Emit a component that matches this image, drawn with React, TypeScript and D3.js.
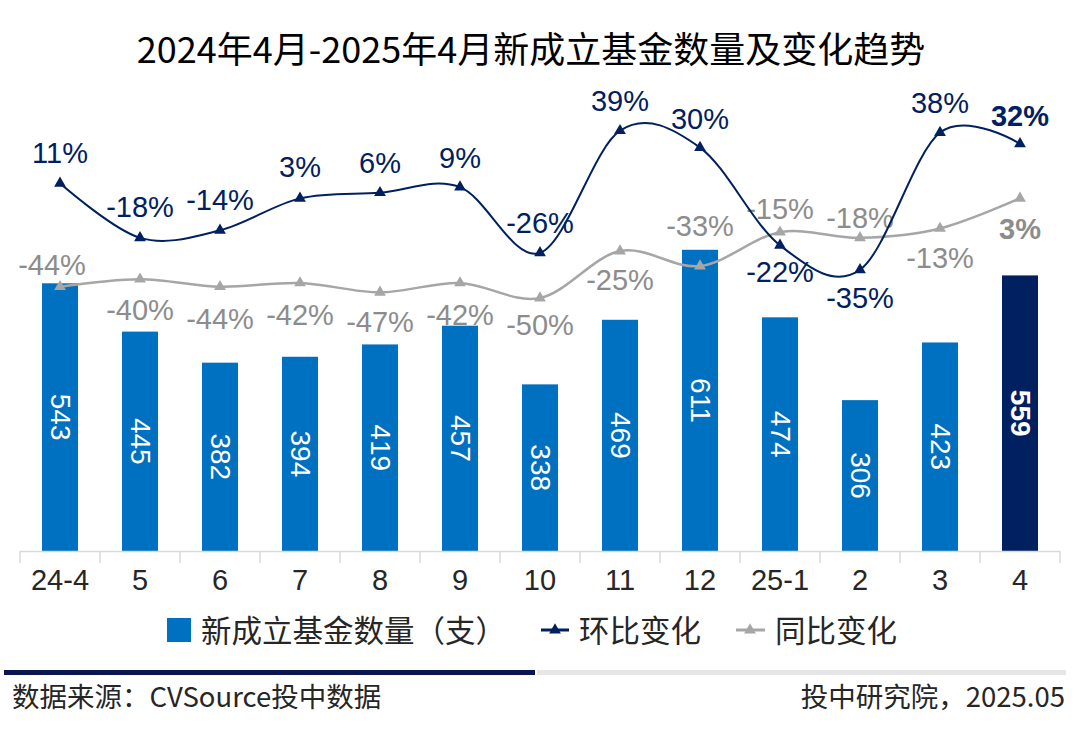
import * as d3 from "d3";

const CATEGORIES = ["24-4", "5", "6", "7", "8", "9", "10", "11", "12", "25-1", "2", "3", "4"];
const FUND_COUNTS = [543, 445, 382, 394, 419, 457, 338, 469, 611, 474, 306, 423, 559];
const MOM_PCT = [11, -18, -14, 3, 6, 9, -26, 39, 30, -22, -35, 38, 32];
const YOY_PCT = [-44, -40, -44, -42, -47, -42, -50, -25, -33, -15, -18, -13, 3];

const TITLE = "2024年4月-2025年4月新成立基金数量及变化趋势";
const LEGEND = ["新成立基金数量（支）", "环比变化", "同比变化"];
const SOURCE = "数据来源：CVSource投中数据";
const CREDIT = "投中研究院，2025.05";

// label offsets from the marker, in px (negative = above)
const MOM_LABEL_DY = [-30, -31, -30, -31, -30, -29, -30, -30, -29, 27, 28, -30, -28];
const YOY_LABEL_DY = [-22, 31, 32, 32, 30, 32, 27, 29, -40, -23, -20, 30, 31];

const W = 1080;
const H = 744;
const BASE = 551;

const BLUE = "#0070C0";
const NAVY = "#002060";
const GREY = "#A6A6A6";
const GREY_TEXT = "#8C8C8C";
const INK = "#262626";
const NUM_FONT = "'Liberation Sans', Arial, sans-serif";
const CJK_FONT = "'Noto Sans CJK SC', 'Noto Sans', sans-serif";

export default function App() {
  const x = d3.scaleBand<string>().domain(CATEGORIES).range([20, 1060]).padding(0);
  const cx = (i: number) => (x(CATEGORIES[i]) ?? 0) + x.bandwidth() / 2;
  const barW = x.bandwidth() * 0.45;

  const yBar = d3.scaleLinear().domain([0, 700]).range([BASE, BASE - 700 * 0.493]);
  const yPct = d3.scaleLinear().domain([-60, 60]).range([204 + 60 * 1.88, 204 - 60 * 1.88]);

  const line = d3
    .line<number>()
    .x((_, i) => cx(i))
    .y((d) => yPct(d))
    .curve(d3.curveCardinal.tension(0));

  const tri = d3.symbol(d3.symbolTriangle, 60)() ?? "";
  const last = CATEGORIES.length - 1;

  return (
    <svg
      width={W}
      height={H}
      viewBox={`0 0 ${W} ${H}`}
      style={{ position: "absolute", left: 0, top: 0, background: "#fff" }}
    >
      <rect width={W} height={H} fill="#fff" />

      <text
        x={531}
        y={63}
        textAnchor="middle"
        fontFamily={CJK_FONT}
        fontSize={36}
        fill="#000"
      >
        {TITLE}
      </text>

      {/* bars */}
      {FUND_COUNTS.map((v, i) => (
        <g key={`b${i}`}>
          <rect
            x={cx(i) - barW / 2}
            y={yBar(v)}
            width={barW}
            height={BASE - yBar(v)}
            fill={i === last ? NAVY : BLUE}
          />
          <text
            transform={`translate(${cx(i)},${(yBar(v) + BASE) / 2}) rotate(90)`}
            textAnchor="middle"
            dominantBaseline="central"
            fontFamily={NUM_FONT}
            fontSize={28}
            fontWeight={i === last ? "bold" : "normal"}
            fill="#fff"
          >
            {v}
          </text>
        </g>
      ))}

      {/* x axis */}
      <line x1={20} x2={1060} y1={BASE + 0.5} y2={BASE + 0.5} stroke="#D9D9D9" strokeWidth={1.5} />
      {[...CATEGORIES.map((c) => x(c) ?? 0), 1060].map((tx, i) => (
        <line key={`t${i}`} x1={tx} x2={tx} y1={BASE} y2={BASE + 12} stroke="#D9D9D9" strokeWidth={1.5} />
      ))}
      {CATEGORIES.map((c, i) => (
        <text
          key={`xl${i}`}
          x={cx(i)}
          y={590}
          textAnchor="middle"
          fontFamily={NUM_FONT}
          fontSize={29}
          fill={INK}
        >
          {c}
        </text>
      ))}

      {/* YoY line */}
      <path d={line(YOY_PCT) ?? ""} fill="none" stroke={GREY} strokeWidth={2.5} />
      {YOY_PCT.map((v, i) => (
        <g key={`y${i}`}>
          <path d={tri} transform={`translate(${cx(i)},${yPct(v)})`} fill={GREY} />
          <text
            x={cx(i) + (i === 0 ? -8 : 0)}
            y={yPct(v) + YOY_LABEL_DY[i]}
            textAnchor="middle"
            dominantBaseline="central"
            fontFamily={NUM_FONT}
            fontSize={29}
            fontWeight={i === last ? "bold" : "normal"}
            fill={GREY_TEXT}
          >
            {`${v}%`}
          </text>
        </g>
      ))}

      {/* MoM line */}
      <path d={line(MOM_PCT) ?? ""} fill="none" stroke={NAVY} strokeWidth={2} />
      {MOM_PCT.map((v, i) => (
        <g key={`m${i}`}>
          <path d={tri} transform={`translate(${cx(i)},${yPct(v)})`} fill={NAVY} />
          <text
            x={cx(i)}
            y={yPct(v) + MOM_LABEL_DY[i]}
            textAnchor="middle"
            dominantBaseline="central"
            fontFamily={NUM_FONT}
            fontSize={29}
            fontWeight={i === last ? "bold" : "normal"}
            fill={NAVY}
          >
            {`${v}%`}
          </text>
        </g>
      ))}

      {/* legend */}
      <rect x={167} y={618} width={24} height={24} fill={BLUE} />
      <text x={201} y={642} fontFamily={CJK_FONT} fontSize={30.5} fill={INK}>
        {LEGEND[0]}
      </text>
      <line x1={541} x2={569} y1={630} y2={630} stroke={NAVY} strokeWidth={3} />
      <path d={tri} transform="translate(555,630)" fill={NAVY} />
      <text x={579} y={642} fontFamily={CJK_FONT} fontSize={30.5} fill={INK}>
        {LEGEND[1]}
      </text>
      <line x1={736} x2={765} y1={630} y2={630} stroke={GREY} strokeWidth={3} />
      <path d={tri} transform="translate(750,630)" fill={GREY} />
      <text x={775} y={642} fontFamily={CJK_FONT} fontSize={30.5} fill={INK}>
        {LEGEND[2]}
      </text>

      {/* footer */}
      <rect x={4} y={670} width={531} height={5} fill="#0B1650" />
      <rect x={537} y={670} width={529} height={5} fill="#E6E6E6" />
      <text x={12} y={707} fontFamily={CJK_FONT} fontSize={27.5} fill={INK}>
        {SOURCE}
      </text>
      <text x={1065} y={707} textAnchor="end" fontFamily={CJK_FONT} fontSize={27.5} fill={INK}>
        {CREDIT}
      </text>
    </svg>
  );
}
